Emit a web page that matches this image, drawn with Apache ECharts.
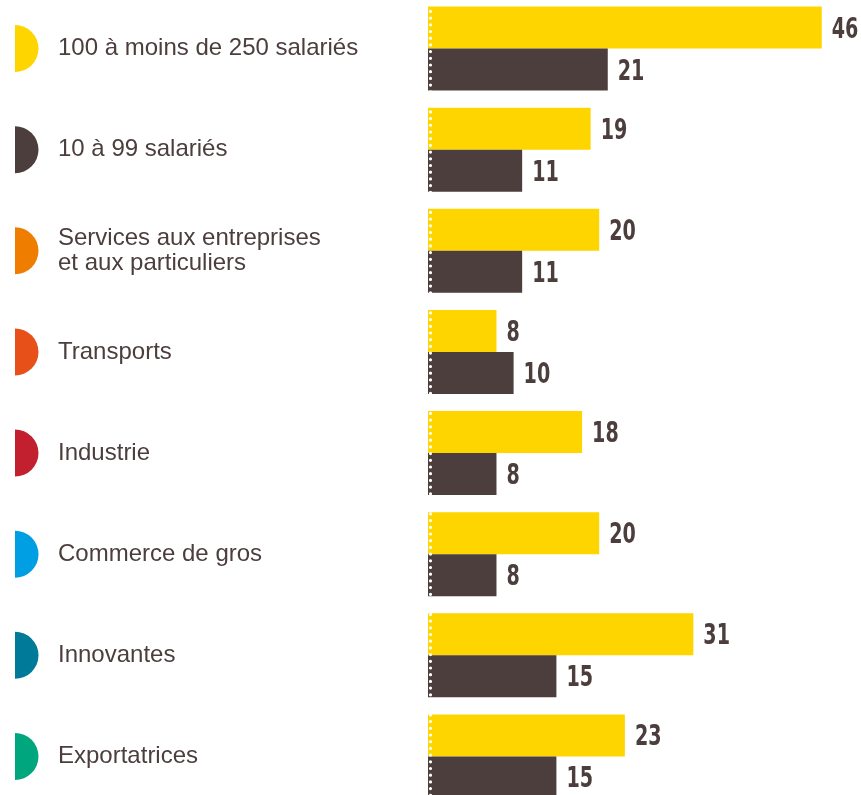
<!DOCTYPE html>
<html>
<head>
<meta charset="utf-8">
<script src="https://cdn.jsdelivr.net/npm/echarts@6/dist/echarts.min.js"></script>
<style>
html, body { margin: 0; padding: 0; background: #fff; }
#chart { width: 861px; height: 795px; }
</style>
</head>
<body>
<div id="chart"></div>
<script>
const categories = [
    '100 à moins de 250 salariés',
    '10 à 99 salariés',
    'Services aux entreprises\net aux particuliers',
    'Transports',
    'Industrie',
    'Commerce de gros',
    'Innovantes',
    'Exportatrices',
];
const markerColors = ['#FFD500', '#4B3E3D', '#EF7D00', '#E8501A', '#C2202E', '#009FE3', '#007A99', '#00A67E'];
const yellowValues = [46, 19, 20, 8, 18, 20, 31, 23];
const darkValues = [21, 11, 11, 10, 8, 8, 15, 15];

const chart = echarts.init(document.getElementById('chart'));

// value labels as squeezed text (no condensed font installed)
const labelData = [];
yellowValues.forEach((v, i) => labelData.push([v, i, -1]));
darkValues.forEach((v, i) => labelData.push([v, i, 1]));

const option = {
    animation: false,
    grid: {
        left: 428,
        top: -2,
        width: 428,
        height: 809,
        outerBoundsMode: 'none',
        containLabel: false,
    },
    xAxis: {
        type: 'value',
        min: 0,
        max: 50,
        show: false,
    },
    yAxis: {
        type: 'category',
        inverse: true,
        data: categories,
        z: 10,
        offset: -2.5,
        axisTick: { show: false },
        axisLine: {
            show: true,
            lineStyle: { color: '#fff', width: 3.2, type: [0, 6.7], cap: 'round' },
        },
        axisLabel: {
            align: 'left',
            margin: 372.5,
            fontFamily: '"Liberation Sans", Arial, sans-serif',
            fontSize: 24,
            lineHeight: 25,
            color: '#4B3E3D',
        },
    },
    series: [
        {
            type: 'bar',
            data: yellowValues,
            barWidth: 42,
            barGap: '0%',
            itemStyle: { color: '#FFD500' },
        },
        {
            type: 'bar',
            data: darkValues,
            barWidth: 42,
            itemStyle: { color: '#4B3E3D' },
        },
        {
            type: 'custom',
            clip: false,
            data: labelData,
            renderItem: (params, api) => {
                const pt = api.coord([api.value(0), api.value(1)]);
                return {
                    type: 'text',
                    x: pt[0] + 10,
                    y: pt[1] + api.value(2) * 21 + 2.5,
                    scaleX: 0.66,
                    style: {
                        text: String(api.value(0)),
                        align: 'left',
                        verticalAlign: 'middle',
                        font: 'bold 29px "DejaVu Sans", sans-serif',
                        fill: '#4B3E3D',
                    },
                };
            },
        },
        {
            type: 'custom',
            clip: false,
            data: categories.map((c, i) => [0, i]),
            renderItem: (params, api) => {
                const pt = api.coord([0, api.value(1)]);
                return {
                    type: 'sector',
                    shape: {
                        cx: 15,
                        cy: pt[1],
                        r0: 0,
                        r: 23.5,
                        startAngle: -Math.PI / 2,
                        endAngle: Math.PI / 2,
                    },
                    style: { fill: markerColors[params.dataIndex] },
                };
            },
        },
    ],
};

chart.setOption(option);
</script>
</body>
</html>
